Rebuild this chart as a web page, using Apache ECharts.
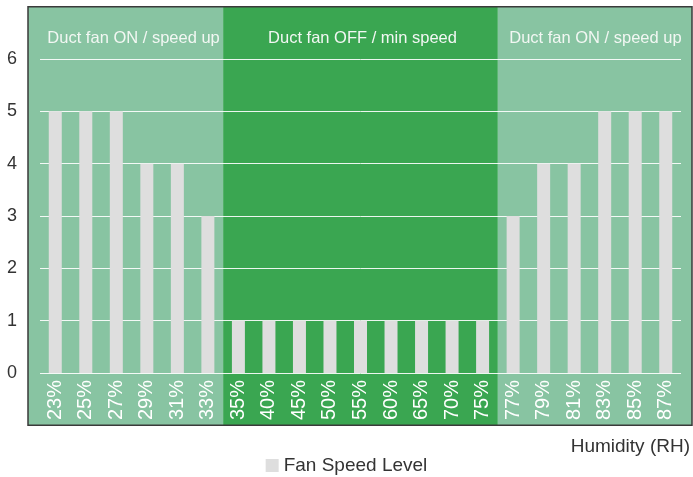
<!DOCTYPE html>
<html>
<head>
<meta charset="utf-8">
<script src="https://cdn.jsdelivr.net/npm/echarts@6/dist/echarts.min.js"></script>
<style>
  html, body { margin: 0; padding: 0; background: #ffffff; }
  #chart { width: 693px; height: 477px; }
</style>
</head>
<body>
<div id="chart"></div>
<script>
// Relative humidity steps on the x axis
const humidity = ['23%', '25%', '27%', '29%', '31%', '33%',
  '35%', '40%', '45%', '50%', '55%', '60%', '65%', '70%', '75%',
  '77%', '79%', '81%', '83%', '85%', '87%'];

// Fan speed level for each humidity step
const fanSpeed = [5, 5, 5, 4, 4, 3,
  1, 1, 1, 1, 1, 1, 1, 1, 1,
  3, 4, 4, 5, 5, 5];

// Operating zones: caption and first/last humidity step of each zone
const zoneLabels = ['Duct fan ON / speed up', 'Duct fan OFF / min speed', 'Duct fan ON / speed up'];
const zoneFirst = ['23%', '35%', '77%'];
const zoneLast = ['33%', '75%', '87%'];

const FONT = '"Liberation Sans", Arial, sans-serif';
const zoneColors = ['#88c4a2', '#3aa651', '#88c4a2'];
const framePad = 12; // panel margin around the plotting grid (px)

const chart = echarts.init(document.getElementById('chart'), null, { renderer: 'canvas' });

chart.setOption({
  animation: false,
  textStyle: { fontFamily: FONT },
  grid: { left: 40, right: 12, top: 59, bottom: 104, containLabel: false },
  legend: {
    data: ['Fan Speed Level'],
    left: 'center',
    top: 451,
    icon: 'rect',
    itemWidth: 13,
    itemHeight: 13,
    itemGap: 8,
    textStyle: { fontSize: 19, color: '#333333', fontFamily: FONT }
  },
  xAxis: {
    type: 'category',
    data: humidity,
    name: 'Humidity (RH)',
    nameLocation: 'end',
    nameGap: 9,
    nameTextStyle: {
      fontSize: 19, color: '#333333', align: 'right', verticalAlign: 'top',
      padding: [64, 0, 0, 0], fontFamily: FONT
    },
    axisLine: { show: false },
    axisTick: { show: false },
    axisLabel: { rotate: 90, fontSize: 20, color: '#ffffff', margin: 7, fontFamily: FONT },
    splitLine: { show: false },
    z: 3
  },
  yAxis: {
    type: 'value',
    min: 0,
    max: 6,
    interval: 1,
    axisLine: { show: false },
    axisTick: { show: false },
    axisLabel: { fontSize: 18, color: '#333333', margin: 23, fontFamily: FONT },
    splitLine: { show: true, lineStyle: { color: 'rgba(255,255,255,0.9)', width: 1 } }
  },
  series: [{
    name: 'Fan Speed Level',
    type: 'bar',
    data: fanSpeed,
    barWidth: 13,
    itemStyle: { color: '#dedede' },
    z: 2
  }]
});

// Zone panels behind the grid, sized from the category scale
function drawZones() {
  const xs = humidity.map(h => chart.convertToPixel({ xAxisIndex: 0 }, h));
  const band = (xs[xs.length - 1] - xs[0]) / (xs.length - 1);
  const top = chart.convertToPixel({ yAxisIndex: 0 }, 7);
  const bottom = chart.convertToPixel({ yAxisIndex: 0 }, -1);
  const captionY = (top + chart.convertToPixel({ yAxisIndex: 0 }, 6)) / 2 + 6;
  const elements = [];
  let frameLeft = 0, frameRight = 0;
  zoneLabels.forEach((label, i) => {
    const a = humidity.indexOf(zoneFirst[i]);
    const b = humidity.indexOf(zoneLast[i]);
    let x0 = xs[a] - band / 2;
    let x1 = xs[b] + band / 2;
    if (i === 0) { x0 -= framePad; frameLeft = x0; }
    if (i === zoneLabels.length - 1) { x1 += framePad - 1; frameRight = x1; }
    elements.push({
      type: 'rect', z: -10, silent: true,
      shape: { x: x0, y: top, width: x1 - x0, height: bottom - top },
      style: { fill: zoneColors[i] }
    });
    elements.push({
      type: 'text', z: 10, silent: true,
      x: (xs[a] + xs[b]) / 2 + (i === 2 ? 6 : 2),
      y: captionY,
      style: {
        text: label, fill: '#f2f7f3', fontSize: 16.5, fontFamily: FONT,
        align: 'center', verticalAlign: 'middle'
      }
    });
  });
  elements.push({
    type: 'rect', z: -5, silent: true,
    shape: { x: frameLeft, y: top, width: frameRight - frameLeft, height: bottom - top },
    style: { fill: 'none', stroke: '#3a3a3a', lineWidth: 1.5 }
  });
  chart.setOption({ graphic: { elements: elements } });
}
drawZones();
</script>
</body>
</html>
